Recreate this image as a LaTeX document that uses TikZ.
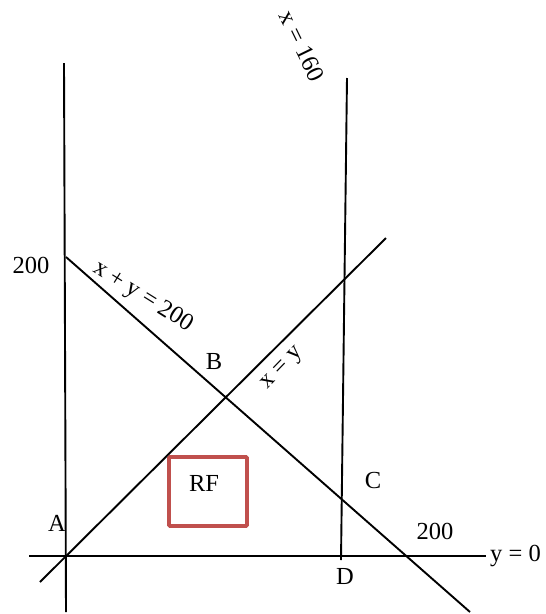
\documentclass[tikz,border=0pt]{standalone}
\usepackage{fontspec}
\setmainfont{Liberation Serif}
\usepackage{xcolor}
\usetikzlibrary{positioning}
\definecolor{rfred}{RGB}{192,80,77}

\begin{document}
\begin{tikzpicture}[
    x=1pt, y=-1pt,
    graphline/.style={draw=black, line width=1.9pt},
    label/.style={font=\fontsize{24.5}{24.5}\selectfont, inner sep=1pt},
    rfbox/.style={rectangle, draw=rfred, line width=3.8pt, rounded corners=1pt}
]
\useasboundingbox (0,0) rectangle (546,614);

% end points of the lines
\coordinate (ytop) at (64,63);
\coordinate (ybot) at (66,612);
\coordinate (xleft) at (29,556);
\coordinate (xright) at (486,556);
\coordinate (sumtop) at (66,257);
\coordinate (sumbot) at (470,612);
\coordinate (diagbot) at (40,582);
\coordinate (diagtop) at (386,238);
\coordinate (vtop) at (347,78);
\coordinate (vbot) at (341,560);

\draw[graphline] (ytop) -- (ybot);
\draw[graphline] (xleft) -- (xright);
\draw[graphline] (sumtop) -- (sumbot);
\draw[graphline] (diagbot) -- (diagtop);
\draw[graphline] (vtop) -- (vbot);

\node[label, right=3pt of xright] (yzero) {y = 0};
\node[label, rotate=-32] (sumlabel) at (143,297) {x + y = 200};
\node[label, rotate=46] (diaglabel) at (283,369) {x = y};
\node[label, rotate=-64] (vlabel) at (302,46) {x = 160};

\node[label] (yval) at (31,265) {200};
\node[label] (xval) at (435,531) {200};
\node[label] (pa) at (57,523) {A};
\node[label] (pb) at (214,362) {B};
\node[label] (pc) at (373,481) {C};
\node[label] (pd) at (345,576) {D};

\node[rfbox, minimum width=78, minimum height=69] (rf) at (208,491.5) {};
\node[label] (rflabel) at (204,483) {RF};

\end{tikzpicture}
\end{document}
